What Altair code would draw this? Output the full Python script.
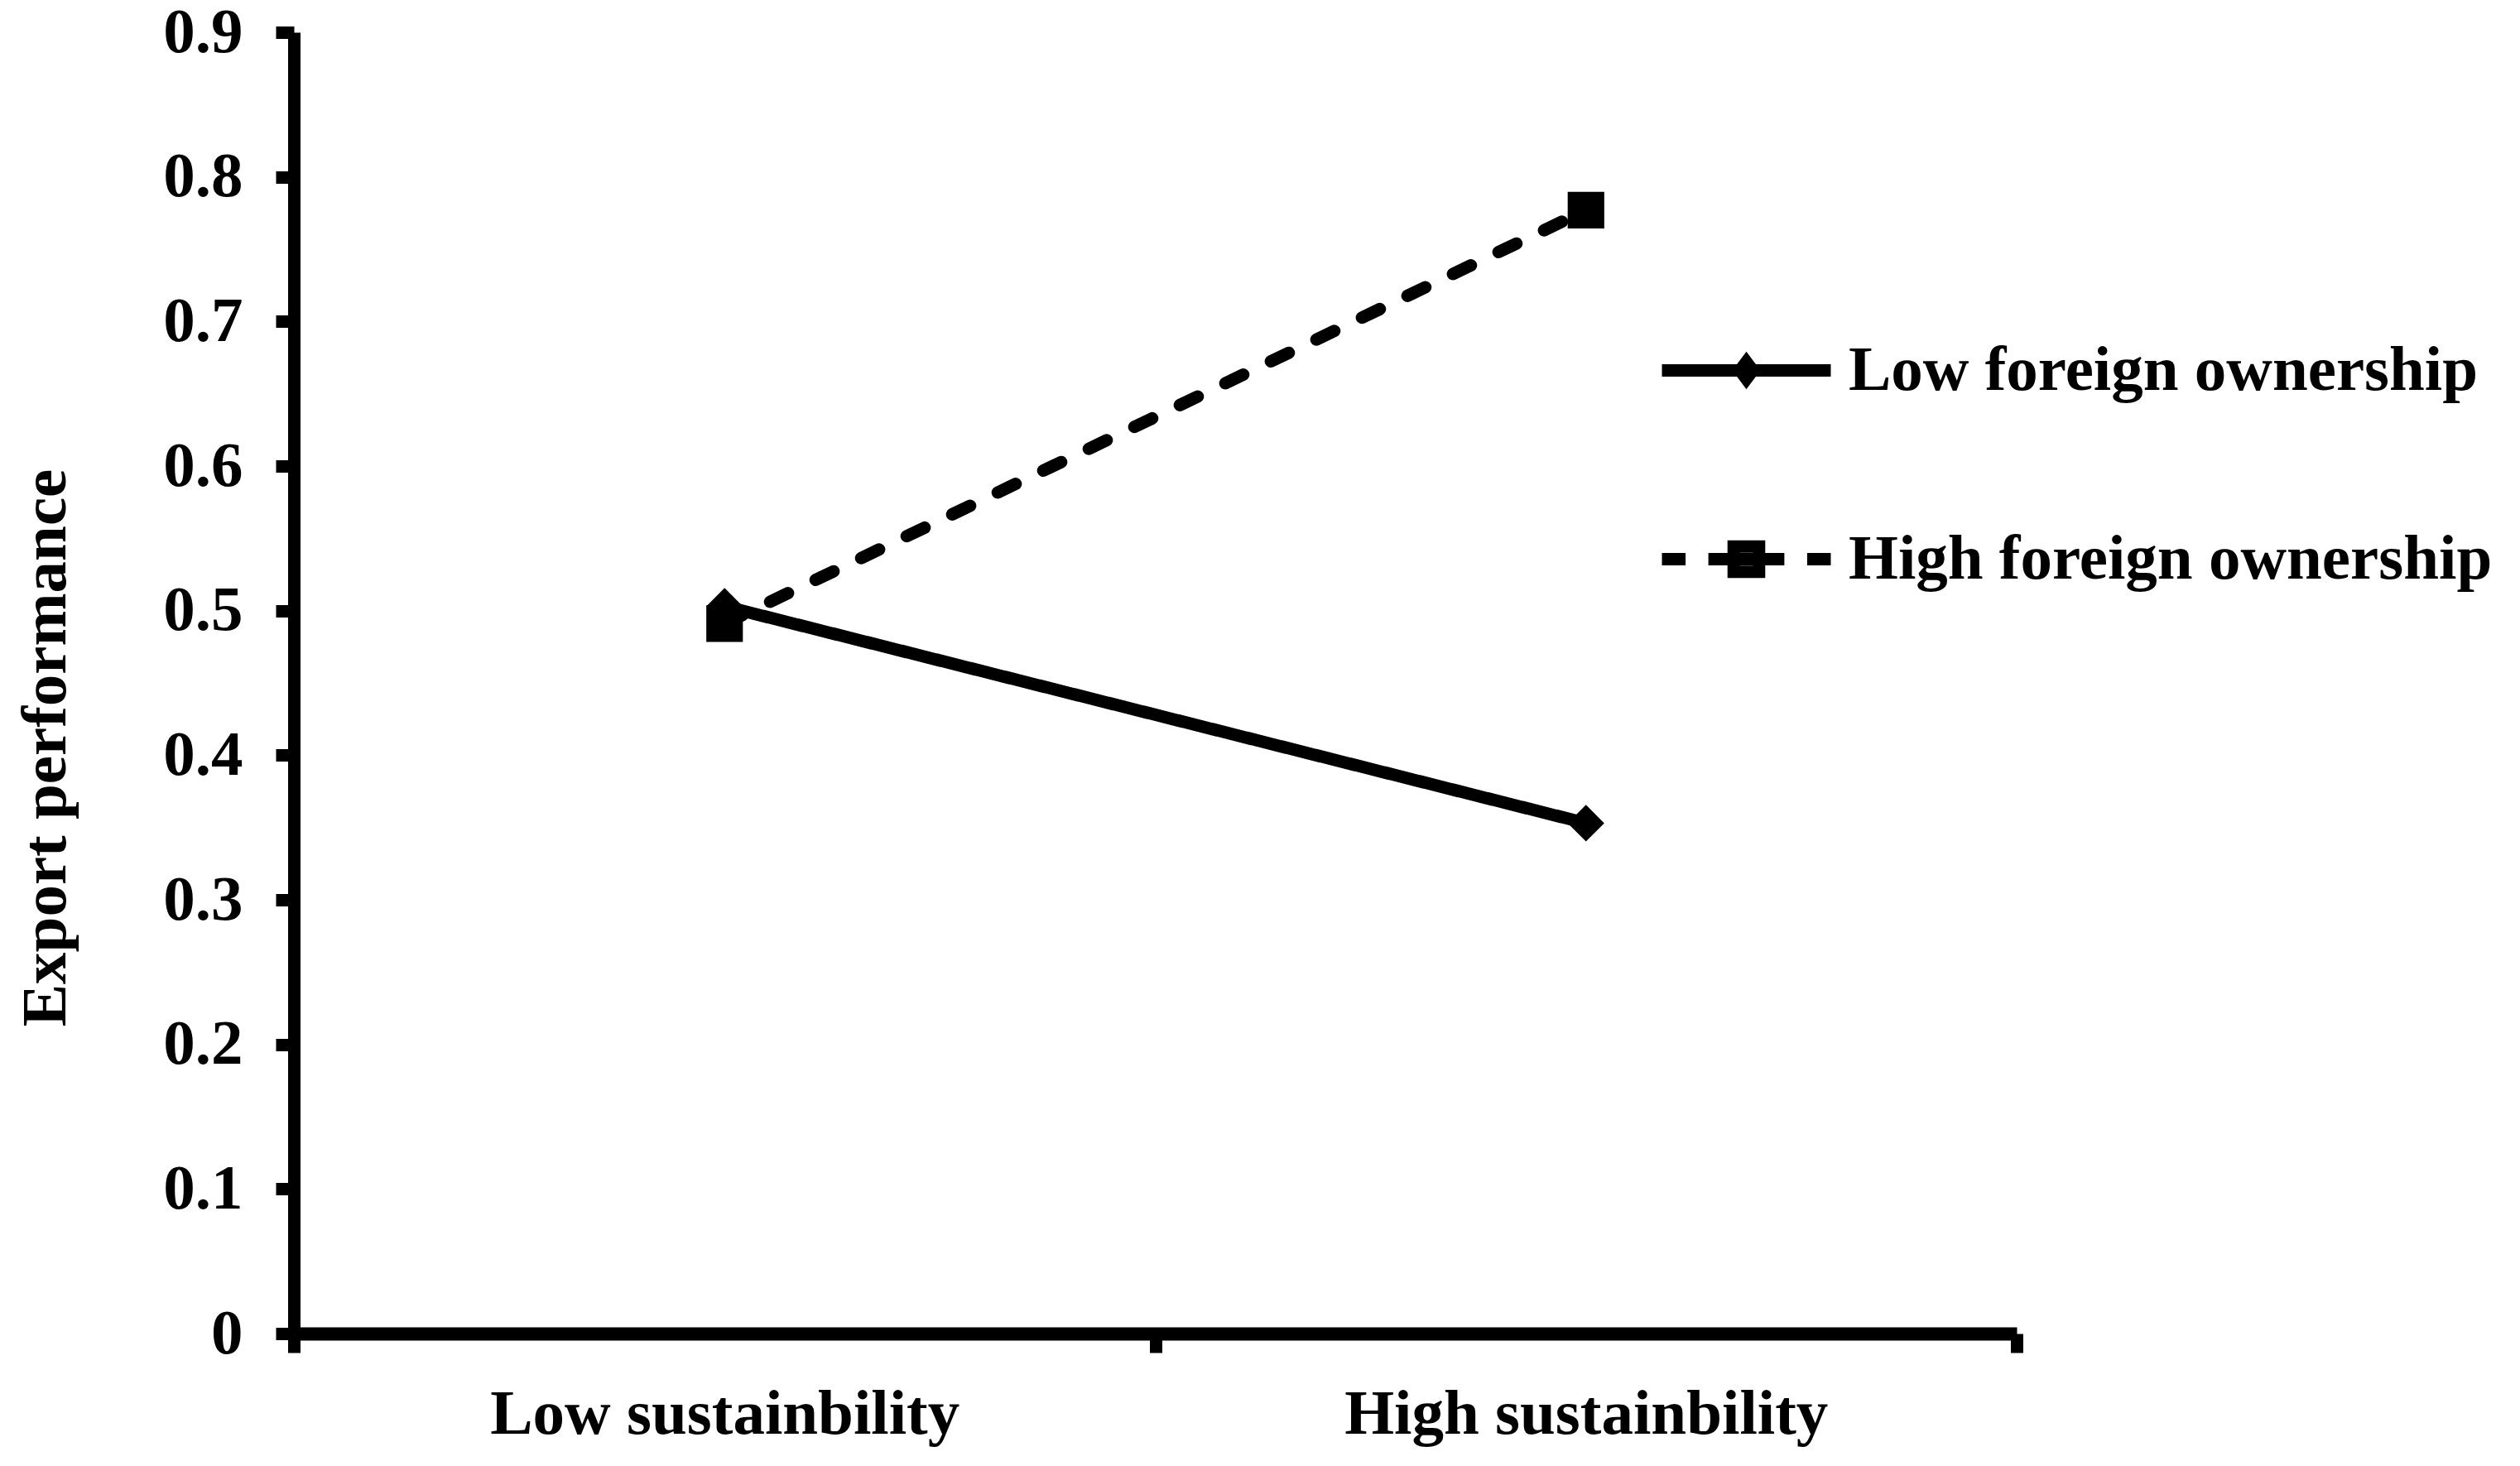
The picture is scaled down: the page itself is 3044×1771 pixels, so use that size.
import json
import altair as alt
import pandas as pd

# ---- data ----
categories = ["Low sustainbility", "High sustainbility"]
groups = ["Low foreign ownership", "High foreign ownership"]
low_foreign = [0.503, 0.353]
high_foreign = [0.491, 0.777]
y_ticks = [0, 0.1, 0.2, 0.3, 0.4, 0.5, 0.6, 0.7, 0.8, 0.9]
x_ticks = [0, 0.5, 1, 1.5, 2]

rows = []
for g, vals in zip(groups, [low_foreign, high_foreign]):
    for c, v in zip(categories, vals):
        rows.append({"group": g, "sust": c, "value": v})
df = pd.DataFrame(rows)

FONT = "Liberation Serif"
FS = 77

cat_expr = "indexof(" + json.dumps(categories) + ", datum.sust) + 0.5"
label_expr = "".join(
    f"datum.value == {i + 0.5} ? {json.dumps(c)} : " for i, c in enumerate(categories)
) + "''"

# legend symbols: line segment(s) plus marker, as custom paths
path_low = "M-1,0H1M0,-0.1L0.075,0L0,0.1L-0.075,0Z"
path_high = "M-1,0H-0.72M-0.45,0H0.45M0.72,0H1M-0.15,-0.15H0.15V0.15H-0.15Z"

base = alt.Chart(df).transform_calculate(xpos=cat_expr)

x_enc = alt.X(
    "xpos:Q",
    scale=alt.Scale(domain=[0, 2], nice=False, zero=False),
    axis=alt.Axis(
        values=x_ticks,
        labelExpr=label_expr,
        title=None,
        grid=False,
        domainColor="black",
        domainWidth=16,
        tickColor="black",
        tickWidth=15,
        tickSize=23,
        tickOpacity={"condition": {"test": "datum.value % 1 === 0", "value": 1}, "value": 0},
        labelFont=FONT,
        labelFontSize=FS,
        labelFontWeight="bold",
        labelColor="black",
        labelPadding=36,
        labelFlush=False,
        labelOverlap=False,
        labelBound=False,
        labelLimit=2000,
    ),
)

y_enc = alt.Y(
    "value:Q",
    scale=alt.Scale(domain=[0, 0.9], nice=False),
    axis=alt.Axis(
        values=y_ticks,
        labelExpr="datum.value == 0 ? '0' : format(datum.value, '.1f')",
        title="Export performance",
        titleFont=FONT,
        titleFontSize=FS,
        titleFontWeight="bold",
        titleColor="black",
        titleX=-277,
        titleY=864,
        titleBaseline="alphabetic",
        titleAngle=270,
        grid=False,
        domainColor="black",
        domainWidth=15,
        tickColor="black",
        tickWidth=15,
        tickSize=22,
        labelFont=FONT,
        labelFontSize=FS,
        labelFontWeight="bold",
        labelColor="black",
        labelPadding=40,
        labelLimit=2000,
    ),
)

lines = base.mark_line(color="black", strokeWidth=15, strokeCap="round").encode(
    x=x_enc,
    y=y_enc,
    detail="group:N",
    strokeDash=alt.StrokeDash(
        "group:N",
        scale=alt.Scale(domain=groups, range=[[1, 0], [24, 37]]),
        legend=None,
    ),
)

points = base.mark_point(filled=True, color="black", size=1950, opacity=1).encode(
    x=x_enc,
    y=y_enc,
    shape=alt.Shape(
        "group:N",
        scale=alt.Scale(domain=groups, range=["diamond", "square"]),
        legend=None,
    ),
)

legend_layer = base.mark_point(filled=False, color="black", opacity=0, strokeWidth=15).encode(
    x=x_enc,
    y=y_enc,
    shape=alt.Shape(
        "group:N",
        scale=alt.Scale(domain=groups, range=[path_low, path_high]),
        legend=alt.Legend(
            title=None,
            orient="none",
            legendX=1645,
            legendY=299,
            padding=0,
            symbolSize=41600,
            symbolStrokeWidth=15,
            symbolStrokeColor="black",
            symbolOpacity=1,
            labelFont=FONT,
            labelFontSize=FS,
            labelFontWeight="bold",
            labelColor="black",
            labelOffset=14,
            labelLimit=2000,
            rowPadding=78,
        ),
    ),
)

chart = (
    alt.layer(lines, points, legend_layer)
    .resolve_scale(shape="independent")
    .properties(
        width=2081,
        height=1572,
        autosize=alt.AutoSizeParams(type="none"),
        padding={"left": 347, "top": 31, "right": 600, "bottom": 152},
        background="white",
    )
    .configure_view(stroke=None)
)

chart.save("out.html", embed_options={"renderer": "svg", "actions": False})
